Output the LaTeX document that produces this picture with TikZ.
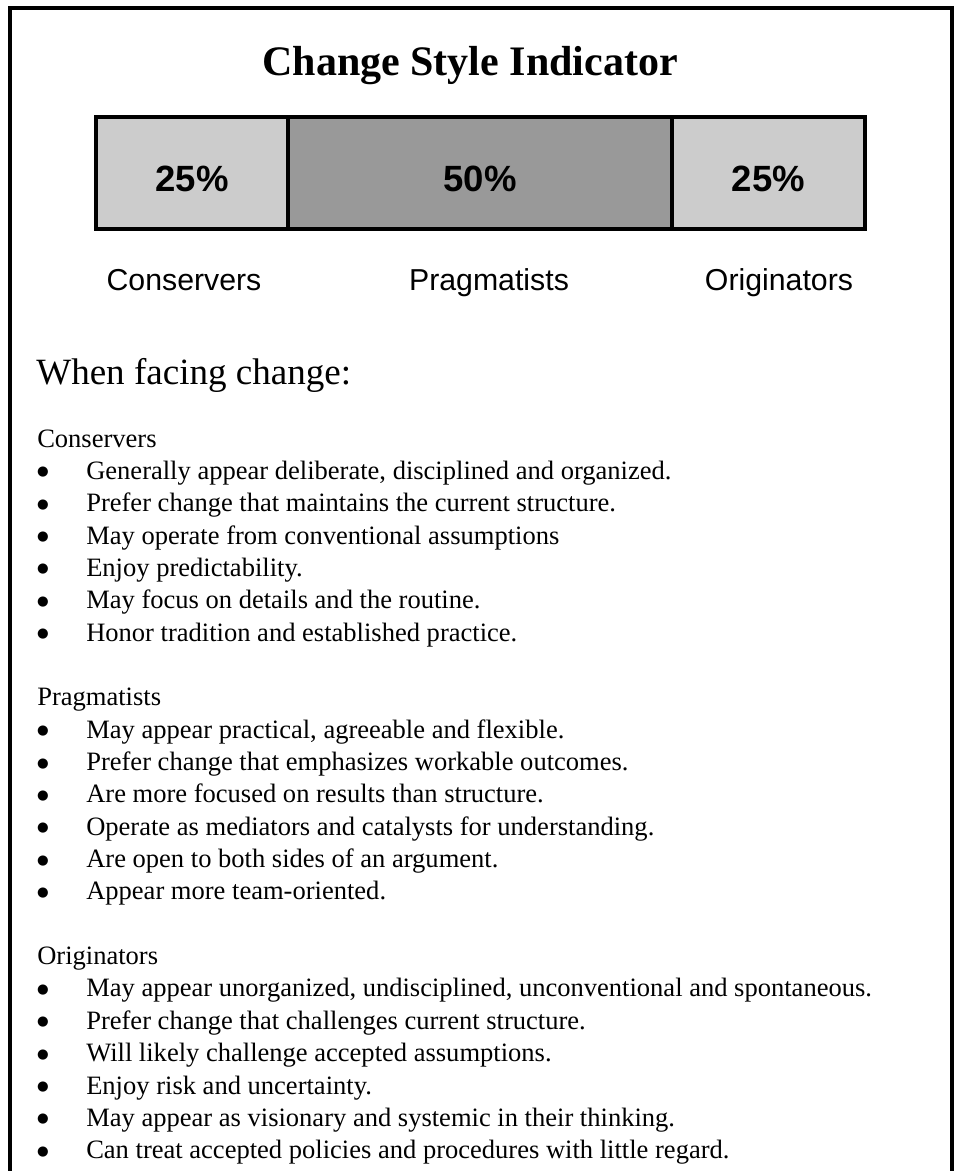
\documentclass[tikz,border=0pt]{standalone}
\usepackage{fontspec}
\setmainfont{Liberation Serif}
\newfontfamily\arialfont{Liberation Sans}
\newfontfamily\symfont{DejaVu Sans}
\definecolor{lightcell}{HTML}{CCCCCC}
\definecolor{darkcell}{HTML}{999999}

\begin{document}
\begin{tikzpicture}[x=0.75pt,y=-0.75pt]
   \tikzstyle{cell}=[draw, line width=2.4pt, minimum height=84pt, inner sep=0pt]
   \tikzstyle{pct}=[font=\arialfont\fontsize{27.4}{30}\selectfont\bfseries]
   \tikzstyle{group}=[anchor=base, font=\arialfont\fontsize{22.7}{26}\selectfont]
   \tikzstyle{body}=[anchor=base west, inner sep=0pt, font=\fontsize{19.9}{24}\selectfont]
   \tikzstyle{dot}=[anchor=base, inner sep=0pt, yshift=2.6pt, font=\symfont\fontsize{10}{11}\selectfont]

\clip (0,0) rectangle (961,1171);
\draw[line width=2.4pt] (10,1200) -- (10,8) -- (952,8) -- (952,1200);

\node[anchor=base, font=\fontsize{31.5}{36}\selectfont\bfseries] (title) at (470,75) {Change Style Indicator};

% the bar
\node[cell, fill=lightcell, minimum width=144pt] (cons) at (192,173) {};
\node[cell, fill=darkcell, minimum width=288pt] (prag) at (480,173) {};
\node[cell, fill=lightcell, minimum width=144.75pt] (orig) at (768.5,173) {};
\node[pct] (p1) at ([yshift=-4.5pt]cons.center) {25\%};
\node[pct] (p2) at ([yshift=-4.5pt]prag.center) {50\%};
\node[pct] (p3) at ([yshift=-4.5pt]orig.center) {25\%};

\node[group] (l1) at (184,290) {Conservers};
\node[group] (l2) at (489,290) {Pragmatists};
\node[group] (l3) at (779,290) {Originators};

\node[anchor=base west, inner sep=0pt, font=\fontsize{27.8}{32}\selectfont] (when) at (36,384) {When facing change:};

% the three lists
\node[body] (h1) at (37,447) {Conservers};
\foreach \txt [count=\i] in {{Generally appear deliberate, disciplined and organized.},
      Prefer change that maintains the current structure.,
      May operate from conventional assumptions,
      Enjoy predictability.,
      May focus on details and the routine.,
      Honor tradition and established practice.}{
   \node[dot] (c\i) at (43,447+32.35*\i) {●};
   \node[body] (ct\i) at (86,447+32.35*\i) {\txt};
}

\node[body] (h2) at (37,447+32.35*8) {Pragmatists};
\foreach \txt [count=\i] in {{May appear practical, agreeable and flexible.},
      Prefer change that emphasizes workable outcomes.,
      Are more focused on results than structure.,
      Operate as mediators and catalysts for understanding.,
      Are open to both sides of an argument.,
      Appear more team-oriented.}{
   \node[dot] (g\i) at (43,447+32.35*8+32.35*\i) {●};
   \node[body] (gt\i) at (86,447+32.35*8+32.35*\i) {\txt};
}

\node[body] (h3) at (37,447+32.35*16) {Originators};
\foreach \txt [count=\i] in {{May appear unorganized, undisciplined, unconventional and spontaneous.},
      Prefer change that challenges current structure.,
      Will likely challenge accepted assumptions.,
      Enjoy risk and uncertainty.,
      May appear as visionary and systemic in their thinking.,
      Can treat accepted policies and procedures with little regard.}{
   \node[dot] (o\i) at (43,447+32.35*16+32.35*\i) {●};
   \node[body] (ot\i) at (86,447+32.35*16+32.35*\i) {\txt};
}

\end{tikzpicture}
\end{document}
